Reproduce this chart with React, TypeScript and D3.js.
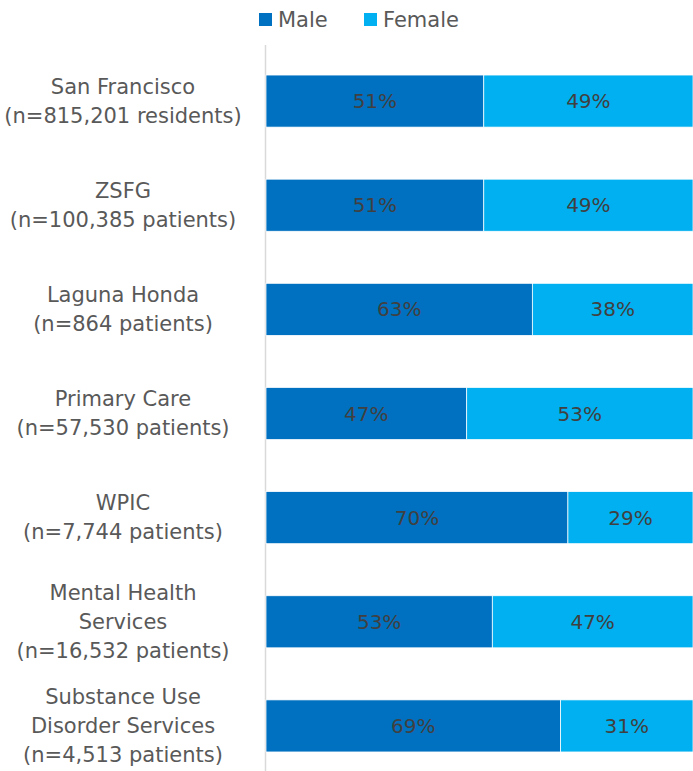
import React from 'react';
import * as d3 from 'd3';

const categories = [
  ['San Francisco', '(n=815,201 residents)'],
  ['ZSFG', '(n=100,385 patients)'],
  ['Laguna Honda', '(n=864 patients)'],
  ['Primary Care', '(n=57,530 patients)'],
  ['WPIC', '(n=7,744 patients)'],
  ['Mental Health', 'Services', '(n=16,532 patients)'],
  ['Substance Use', 'Disorder Services', '(n=4,513 patients)'],
];
const male = [51, 51, 63, 47, 70, 53, 69];
const female = [49, 49, 38, 53, 29, 47, 31];
const seriesNames = ['Male', 'Female'];
const colors = ['#0070C0', '#00B0F0'];

const W = 693;
const H = 771;
const FONT = '"DejaVu Sans", sans-serif';

export default function App() {
  const ids = categories.map((_, i) => String(i));
  const y = d3.scaleBand<string>().domain(ids).range([49, 778]).paddingInner(0.5).paddingOuter(0.25);
  const x = d3.scaleLinear().domain([0, 1]).range([266, 693]);

  const rows = ids.map((id, i) => {
    const total = male[i] + female[i];
    const m = male[i] / total;
    return { id, segs: [
      { x0: 0, x1: m, v: male[i], c: colors[0] },
      { x0: m, x1: 1, v: female[i], c: colors[1] },
    ] };
  });

  return (
    <svg width={W} height={H} style={{ position: 'absolute', left: 0, top: 0 }} fontFamily={FONT}>
      <rect width={W} height={H} fill="#fff" />
      {/* legend */}
      {seriesNames.map((s, i) => {
        const lx = i === 0 ? 259 : 364;
        return (
          <g key={s}>
            <rect x={lx} y={13} width={13} height={13} fill={colors[i]} />
            <text x={lx + 19} y={19.5} dy="0.35em" fontSize={21} fill="#595959">{s}</text>
          </g>
        );
      })}
      <line x1={265.5} x2={265.5} y1={45} y2={H} stroke="#d9d9d9" strokeWidth={1.5} />
      {rows.map(r => (
        <g key={r.id}>
          {r.segs.map((s, j) => (
            <g key={j}>
              <rect x={x(s.x0)} y={y(r.id)} width={x(s.x1) - x(s.x0)} height={y.bandwidth()} fill={s.c} stroke="#fff" strokeWidth={0.75} />
              <text x={(x(s.x0) + x(s.x1)) / 2} y={y(r.id)! + y.bandwidth() / 2} dy="0.35em" textAnchor="middle" fontSize={20} fill="#404040">{s.v}%</text>
            </g>
          ))}
        </g>
      ))}
      {categories.map((lines, i) => {
        const cy = y(String(i))! + y.bandwidth() / 2;
        const lh = 29;
        return (
          <text key={i} textAnchor="middle" fontSize={21} fill="#595959">
            {lines.map((l, k) => (
              <tspan key={k} x={123} y={cy + (k - (lines.length - 1) / 2) * lh} dy="0.35em">{l}</tspan>
            ))}
          </text>
        );
      })}
    </svg>
  );
}
